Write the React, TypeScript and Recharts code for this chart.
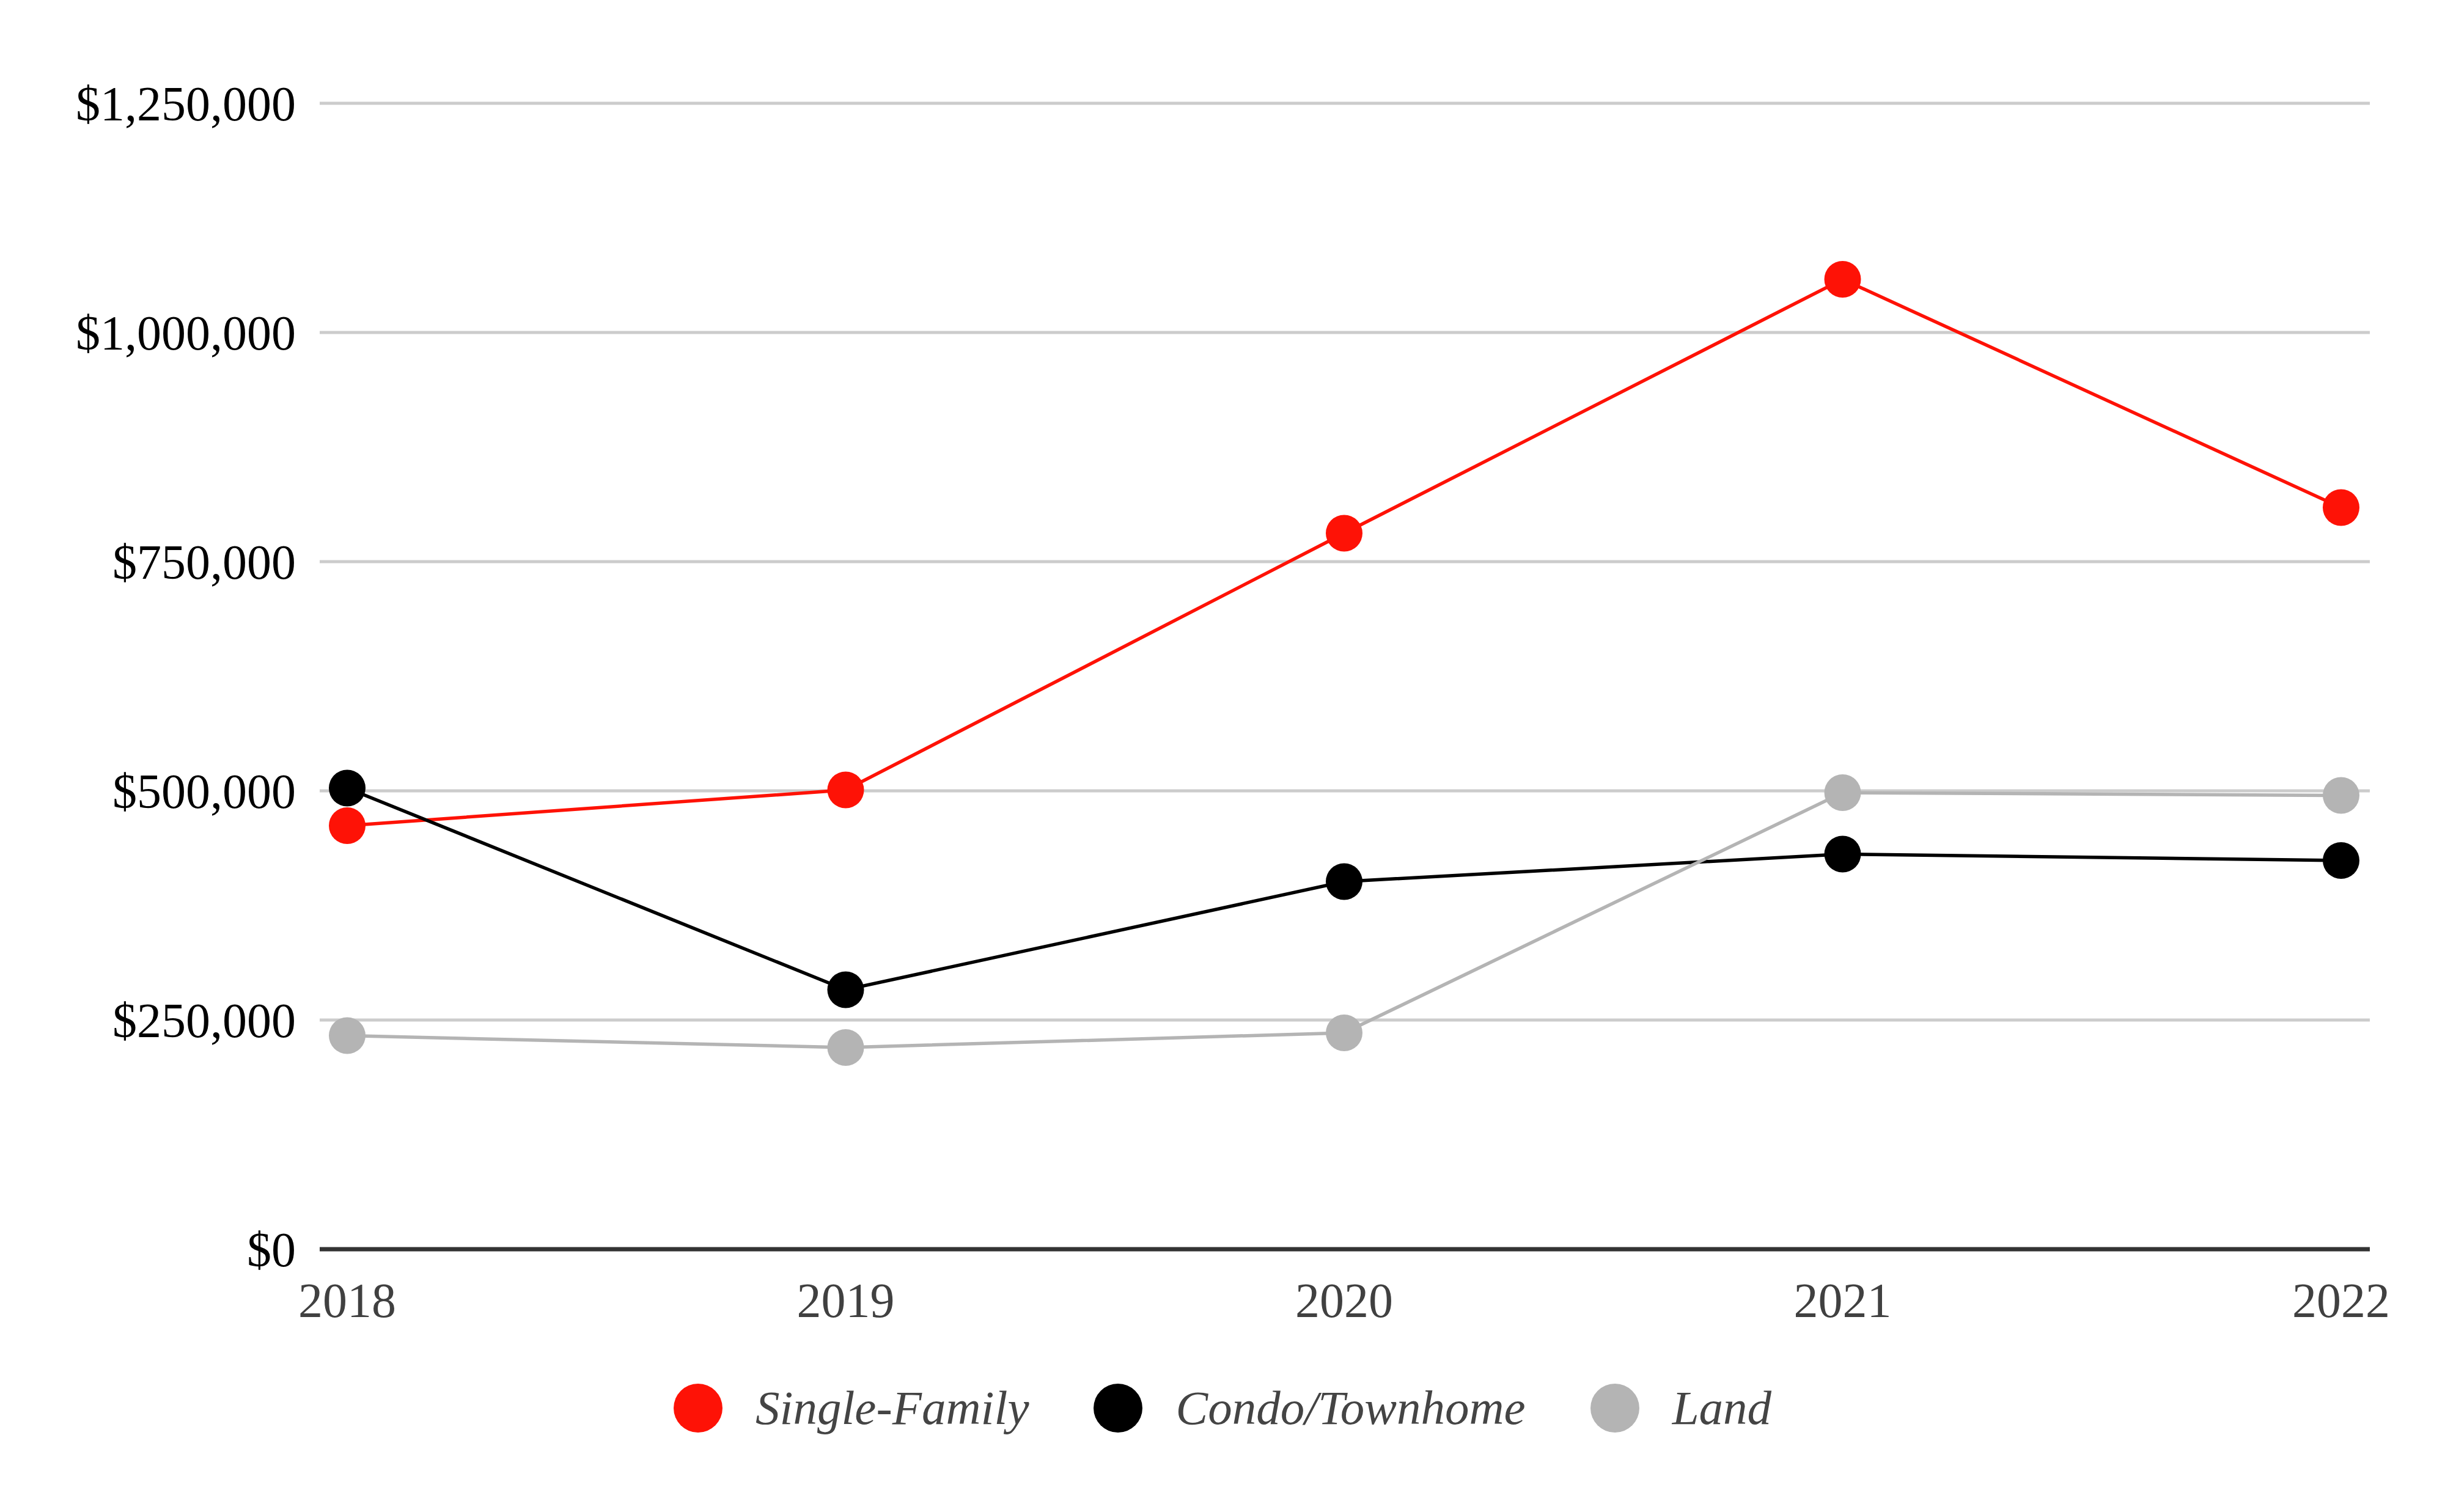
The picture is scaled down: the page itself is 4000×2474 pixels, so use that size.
import React from "react";
import { LineChart, Line, XAxis, YAxis, CartesianGrid, Legend } from "recharts";

const years = ["2018", "2019", "2020", "2021", "2022"];
const singleFamily = [462000, 501000, 781000, 1058000, 809000];
const condoTownhome = [503000, 283000, 401000, 431000, 424000];
const land = [233000, 220000, 236000, 498000, 495000];
const yTicks = [0, 250000, 500000, 750000, 1000000, 1250000];

const seriesNames = ["Single-Family", "Condo/Townhome", "Land"];
const seriesColors = ["#fe1206", "#000000", "#b4b4b4"];
const seriesKeys = ["sf", "ct", "land"];

const data = years.map((y, i) => ({
  year: y,
  sf: singleFamily[i],
  ct: condoTownhome[i],
  land: land[i],
}));

const FONT = '"Liberation Serif", "Times New Roman", serif';

const fmt = (v: number) => "$" + v.toLocaleString("en-US");

const LegendContent = () => (
  <div
    style={{
      display: "flex",
      flexDirection: "row",
      justifyContent: "center",
      alignItems: "center",
      width: 4000,
      fontFamily: FONT,
      fontStyle: "italic",
      fontSize: 79,
      color: "#444444",
      lineHeight: "80px",
    }}
  >
    {seriesNames.map((name, i) => (
      <div
        key={name}
        style={{
          display: "flex",
          alignItems: "center",
          marginLeft: i === 0 ? 0 : 106,
        }}
      >
        <svg width={80} height={80} style={{ display: "block", marginRight: 54 }}>
          <circle cx={40} cy={40} r={40} fill={seriesColors[i]} />
        </svg>
        <span>{name}</span>
      </div>
    ))}
  </div>
);

export default function App() {
  return (
    <div style={{ position: "absolute", left: 0, top: 0, width: 4000, height: 2474, background: "#fff" }}>
      <LineChart
        width={4000}
        height={2474}
        data={data}
        margin={{ top: 169, right: 123, bottom: 330, left: 0 }}
      >
        <CartesianGrid horizontal vertical={false} stroke="#cccccc" strokeWidth={5} />
        <XAxis
          dataKey="year"
          padding={{ left: 45, right: 47 }}
          height={100}
          tickLine={false}
          tickSize={0}
          tickMargin={54}
          axisLine={{ stroke: "#333333", strokeWidth: 7 }}
          tick={{ fontFamily: FONT, fontSize: 80, fill: "#404040" }}
          interval={0}
        />
        <YAxis
          width={523}
          domain={[0, 1250000]}
          ticks={yTicks}
          tickFormatter={fmt}
          axisLine={false}
          tickLine={false}
          tickSize={0}
          tickMargin={39}
          tick={{ fontFamily: FONT, fontSize: 80, fill: "#000000" }}
          interval={0}
        />
        {seriesKeys.map((k, i) => (
          <Line
            key={k}
            type="linear"
            dataKey={k}
            name={seriesNames[i]}
            stroke={seriesColors[i]}
            strokeWidth={5.5}
            dot={{ r: 30, fill: seriesColors[i], stroke: "none", strokeWidth: 0 }}
            activeDot={false}
            isAnimationActive={false}
          />
        ))}
        <Legend
          layout="horizontal"
          verticalAlign="middle"
          align="center"
          content={LegendContent}
          wrapperStyle={{ top: 2264, left: 0, width: 4000, height: 80 }}
        />
      </LineChart>
    </div>
  );
}
